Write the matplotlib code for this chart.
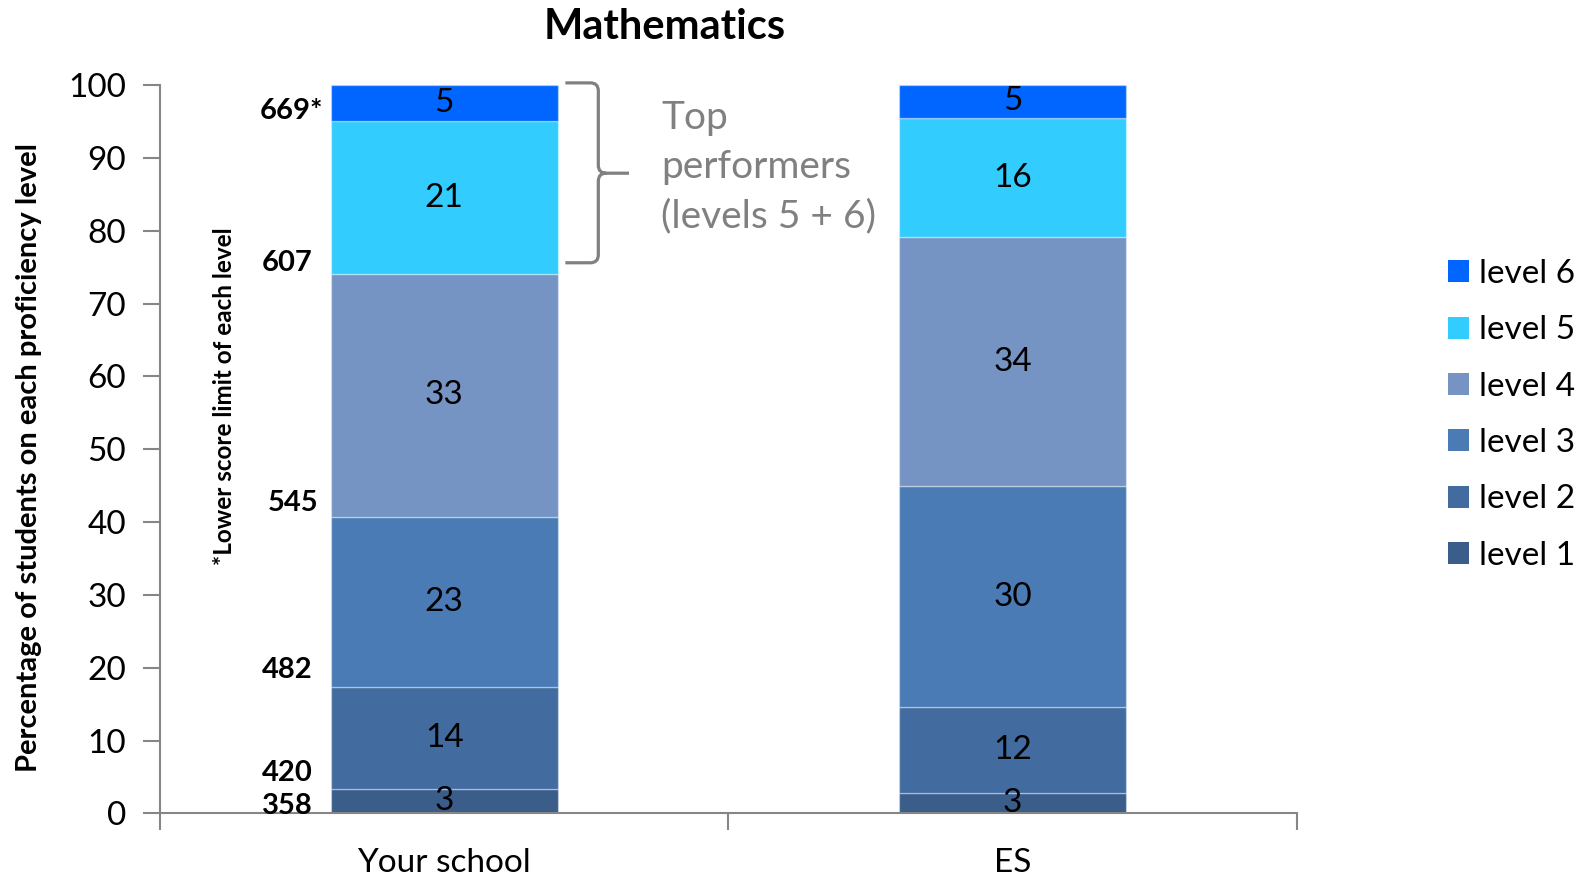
import numpy as np
import matplotlib
matplotlib.use("Agg")
import matplotlib.pyplot as plt
from matplotlib.path import Path
from matplotlib.patches import PathPatch, Patch

plt.rcParams['font.family'] = ['Lato', 'DejaVu Sans']

# percentage of students per proficiency level (level 1 .. level 6)
groups = ['Your school', 'ES']
levels = ['level 1', 'level 2', 'level 3', 'level 4', 'level 5', 'level 6']
your_school = [3.4, 13.9, 23.4, 33.4, 20.9, 5.0]
es = [2.8, 11.8, 30.3, 34.2, 16.4, 4.5]
colors = ['#3A5D8A', '#426C9F', '#4A7BB5', '#7594C4', '#33CCFF', '#0066FF']

# lower score limit of each level
score_limits = ['358', '420', '482', '545', '607', '669*']
score_y = [1.0, 5.5, 19.7, 42.6, 75.6, 96.5]

data = np.array([your_school, es]).T
x = np.arange(len(groups))
width = 0.40

fig = plt.figure(figsize=(15.83, 8.77), dpi=100)
ax = fig.add_axes([0.1011, 0.0726, 0.7182, 0.8304])

bottom = np.zeros(len(groups))
for i, lvl in enumerate(levels):
    vals = data[i]
    ax.bar(x, vals, width, bottom=bottom, color=colors[i],
           edgecolor=(1, 1, 1, 0.35), linewidth=1, label=lvl, zorder=2)
    for xi, v, b in zip(x, vals, bottom):
        ax.text(xi, b + v / 2, f"{int(v + 0.5)}", ha='center', va='center',
                fontsize=24, color='black', zorder=3)
    bottom += vals

ax.set_xlim(-0.5, 1.5)
ax.set_ylim(0, 100)
ax.set_yticks(np.arange(0, 101, 10))
ax.tick_params(axis='y', length=12, width=1.5, color='#868686',
               labelsize=24, pad=12.5)

# category boundaries carry the tick marks, names sit at the centres
ax.set_xticks([-0.5, 0.5, 1.5])
ax.set_xticklabels([])
ax.tick_params(axis='x', which='major', length=12, width=1.5, color='#868686')
ax.set_xticks(x, minor=True)
ax.set_xticklabels(groups, minor=True)
ax.tick_params(axis='x', which='minor', length=0, labelsize=24, pad=25)

for side in ['top', 'right']:
    ax.spines[side].set_visible(False)
for side in ['left', 'bottom']:
    ax.spines[side].set_color('#868686')
    ax.spines[side].set_linewidth(1.5)

ax.set_ylabel('Percentage of students on each proficiency level',
              fontsize=21, fontweight='bold')
ax.yaxis.set_label_coords(-0.104, 0.488)

fig.text(0.42, 0.969, 'Mathematics', ha='center', va='center',
         fontsize=30, fontweight='bold')

# score limits beside the school bar
for lab, yv in zip(score_limits, score_y):
    xr = -0.232
    if lab.endswith('*'):
        xr = -0.213
    elif lab == '545':
        xr = -0.222
    ax.text(xr, yv, lab, ha='right', va='center', fontsize=21,
            fontweight='bold', clip_on=False)

ax.text(-0.387, 57.3, '*Lower score limit of each level', rotation=90,
        ha='center', va='center', fontsize=17.5, fontweight='bold')

# brace around levels 5 + 6
x0, x1, x2 = 0.213, 0.271, 0.325
yt, yb, ym = 100.3, 75.6, 87.9
rx, ry = 0.014, 1.1
verts = [(x0, yt), (x1 - rx, yt), (x1, yt), (x1, yt - ry),
         (x1, ym + ry), (x1, ym), (x1 + rx, ym), (x2, ym),
         (x1 + rx, ym), (x1, ym), (x1, ym - ry),
         (x1, yb + ry), (x1, yb), (x1 - rx, yb), (x0, yb)]
codes = [Path.MOVETO, Path.LINETO, Path.CURVE3, Path.CURVE3,
         Path.LINETO, Path.CURVE3, Path.CURVE3, Path.LINETO,
         Path.MOVETO, Path.CURVE3, Path.CURVE3,
         Path.LINETO, Path.CURVE3, Path.CURVE3, Path.LINETO]
ax.add_patch(PathPatch(Path(verts, codes), facecolor='none',
                       edgecolor='#808080', linewidth=2.3, clip_on=False,
                       zorder=4))
ax.text(0.382, 97.9, 'Top\nperformers\n(levels 5 + 6)', ha='left', va='top',
        fontsize=28, color='#808080', linespacing=1.45)

handles = [Patch(facecolor=c) for c in colors][::-1]
fig.legend(handles, levels[::-1], loc='center left',
           bbox_to_anchor=(0.915, 0.527), frameon=False, fontsize=24,
           handlelength=0.63, handleheight=0.63, handletextpad=0.3,
           labelspacing=0.79, borderpad=0, borderaxespad=0)

fig.savefig('out.png', dpi=100)
